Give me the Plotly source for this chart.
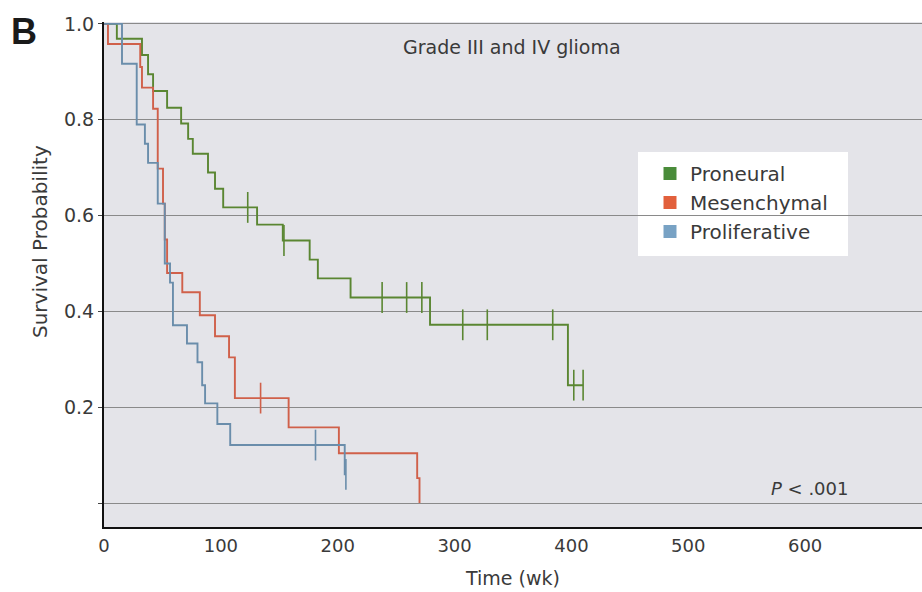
import plotly.graph_objects as go

# ---------------- data ----------------
# Proneural (green)
pn_t = [0, 11, 32.5, 37.7, 42, 54, 66, 72, 76, 89, 95, 102, 131, 153, 176, 183, 211, 279, 397, 410]
pn_s = [1.0, 0.969, 0.935, 0.895, 0.86, 0.825, 0.792, 0.76, 0.729, 0.69, 0.656, 0.617, 0.581, 0.548, 0.508, 0.469, 0.429, 0.372, 0.246, 0.246]
pn_cens_t = [123, 154, 238, 259, 272, 307, 328, 384, 402, 410]
pn_cens_s = [0.617, 0.548, 0.429, 0.429, 0.429, 0.372, 0.372, 0.372, 0.246, 0.246]

# Mesenchymal (red)
me_t = [0, 3.4, 31, 32.5, 42, 46, 50.5, 52, 54, 67, 82, 95, 107, 112, 158, 201, 268, 270]
me_s = [1.0, 0.958, 0.91, 0.867, 0.823, 0.698, 0.625, 0.55, 0.48, 0.44, 0.392, 0.348, 0.304, 0.219, 0.158, 0.104, 0.052, 0.0]
me_cens_t = [134]
me_cens_s = [0.219]

# Proliferative (blue)
pf_t = [0, 15.4, 28, 35, 37.7, 46, 52, 56.5, 59, 71, 80, 84, 86.5, 97, 108, 206, 207]
pf_s = [1.0, 0.917, 0.79, 0.75, 0.71, 0.625, 0.5, 0.46, 0.371, 0.333, 0.294, 0.246, 0.208, 0.165, 0.121, 0.06, 0.06]
pf_cens_t = [181, 207]
pf_cens_s = [0.121, 0.06]

groups = ["Proneural", "Mesenchymal", "Proliferative"]
x_ticks = [0, 100, 200, 300, 400, 500, 600]
y_ticks = [0, 0.2, 0.4, 0.6, 0.8, 1.0]
y_ticklabels = ["", "0.2", "0.4", "0.6", "0.8", "1.0"]

# ---------------- style ----------------
line_colors = ["#5a8632", "#d0604a", "#6a8dab"]
legend_colors = ["#4a8c3a", "#e2603c", "#78a2c4"]
FONT = "DejaVu Sans"
TXT = "#3a3a3a"

fig = go.Figure()
curves = [(pn_t, pn_s, pn_cens_t, pn_cens_s), (me_t, me_s, me_cens_t, me_cens_s),
          (pf_t, pf_s, pf_cens_t, pf_cens_s)]
for (t, s, ct, cs), col, name in zip(curves, line_colors, groups):
    fig.add_trace(go.Scatter(x=t, y=s, mode="lines", line=dict(color=col, width=1.9, shape="hv"),
                             showlegend=False, hoverinfo="skip", name=name))
    fig.add_trace(go.Scatter(x=ct, y=cs, mode="markers",
                             marker=dict(symbol="line-ns", size=22, line=dict(color=col, width=1.6)),
                             showlegend=False, hoverinfo="skip", cliponaxis=False))

for col, name in zip(legend_colors, groups):
    fig.add_trace(go.Scatter(x=[None], y=[None], mode="markers", name=name,
                             marker=dict(symbol="square", size=13, color=col)))

W, H = 922, 592
L, R, T, B = 104, 0, 22, 65
pw, ph = W - L - R, H - T - B
def px(x):
    return (x - L) / pw
def py(y):
    return (H - B - y) / ph

fig.update_layout(
    width=W, height=H,
    margin=dict(l=L, r=R, t=T, b=B),
    paper_bgcolor="white",
    plot_bgcolor="#e4e4e9",
    font=dict(family=FONT, size=19, color=TXT),
    showlegend=True,
    legend=dict(x=px(650), y=py(154), xanchor="left", yanchor="top",
                bgcolor="rgba(0,0,0,0)", borderwidth=0,
                font=dict(family=FONT, size=20, color=TXT)),
    xaxis=dict(range=[0, 700], tickvals=x_ticks, showgrid=False, zeroline=False,
               showline=True, linecolor="#111", linewidth=2, ticks="",
               ticklabelstandoff=1,
               tickfont=dict(size=18, color=TXT)),
    yaxis=dict(range=[-0.05, 1.004], tickvals=y_ticks, ticktext=y_ticklabels,
               showgrid=True, gridcolor="#8a8a8a", gridwidth=1.3, zeroline=False,
               showline=True, linecolor="#111", linewidth=2, ticks="outside",
               ticklen=4, tickcolor="#444", tickfont=dict(size=19, color=TXT)),
    shapes=[dict(type="rect", xref="paper", yref="paper",
                 x0=px(638), x1=px(848), y0=py(256), y1=py(152),
                 fillcolor="white", line=dict(width=0), layer="below")],
    annotations=[
        dict(text="Grade III and IV glioma", xref="paper", yref="paper", x=px(512), y=py(47),
             yanchor="middle", showarrow=False, font=dict(size=19, color=TXT)),
        dict(text="<i>P</i> &lt; .001", xref="paper", yref="paper", x=px(850), y=py(488),
             xanchor="right", yanchor="middle", showarrow=False, font=dict(size=18, color=TXT)),
        dict(text="<b>B</b>", xref="paper", yref="paper", x=px(9), y=py(31),
             xanchor="left", yanchor="middle", showarrow=False,
             font=dict(size=36, color="#1a1a1a", family="Liberation Sans")),
        dict(text="Survival Probability", xref="paper", yref="paper", x=px(40), y=py(242),
             textangle=-90, xanchor="center", yanchor="middle", showarrow=False,
             font=dict(size=20, color=TXT)),
        dict(text="Time (wk)", xref="paper", yref="paper", x=px(512), y=py(578),
             yanchor="middle", showarrow=False, font=dict(size=19, color=TXT)),
    ],
)

fig.write_html("out.html")
